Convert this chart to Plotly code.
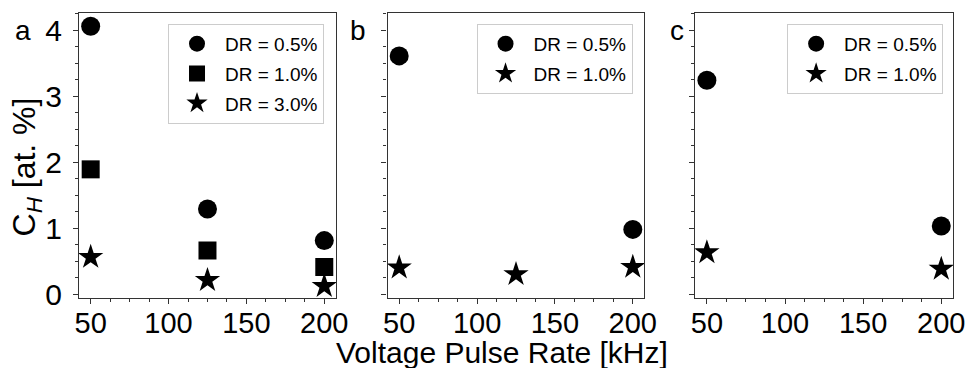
import plotly.graph_objects as go

# ---- data ----
rate_a = [50, 125, 200]
a_dr05 = [4.06, 1.29, 0.81]
a_dr10 = [1.89, 0.66, 0.41]
a_dr30 = [0.56, 0.21, 0.12]

rate_b05 = [50, 200]
b_dr05 = [3.61, 0.98]
rate_b10 = [50, 125, 200]
b_dr10 = [0.40, 0.30, 0.41]

rate_c = [50, 200]
c_dr05 = [3.24, 1.03]
c_dr10 = [0.63, 0.38]

x_ticks = [50, 100, 150, 200]
y_ticks = [0, 1, 2, 3, 4]
panel_labels = ["a", "b", "c"]

FONT = "Liberation Sans, Arial, sans-serif"
AX = "#333333"

fig = go.Figure()

def add(x, y, name, symbol, size, xa, ya, leg, grp):
    fig.add_trace(go.Scatter(
        x=x, y=y, mode="markers", name=name,
        marker=dict(symbol=symbol, size=size, color="black", line=dict(width=0)),
        xaxis=xa, yaxis=ya, legend=leg, legendgroup=grp,
    ))

add(rate_a, a_dr05, "DR = 0.5%", "circle", 19, "x", "y", "legend", "a1")
add(rate_a, a_dr10, "DR = 1.0%", "square", 18, "x", "y", "legend", "a2")
add(rate_a, a_dr30, "DR = 3.0%", "star", 19, "x", "y", "legend", "a3")
add(rate_b05, b_dr05, "DR = 0.5%", "circle", 19, "x2", "y2", "legend2", "b1")
add(rate_b10, b_dr10, "DR = 1.0%", "star", 19, "x2", "y2", "legend2", "b2")
add(rate_c, c_dr05, "DR = 0.5%", "circle", 19, "x3", "y3", "legend3", "c1")
add(rate_c, c_dr10, "DR = 1.0%", "star", 19, "x3", "y3", "legend3", "c2")

domains = [[0, 0.294], [0.353, 0.647], [0.705, 1.0]]
for i, dom in enumerate(domains):
    sfx = "" if i == 0 else str(i + 1)
    fig.layout["xaxis" + sfx] = dict(
        domain=dom, range=[42.5, 207.5], anchor="y" + sfx,
        tickvals=x_ticks, ticks="outside", ticklen=5, tickwidth=1, tickcolor=AX,
        showline=True, linecolor=AX, linewidth=1.2, mirror=True,
        showgrid=False, zeroline=False, ticklabelstandoff=-6,
        tickfont=dict(size=29, color="black", family=FONT),
        minor=dict(dtick=12.5, tick0=50, ticks="outside", ticklen=3, tickcolor=AX),
    )
    fig.layout["yaxis" + sfx] = dict(
        range=[-0.06, 4.26], anchor="x" + sfx,
        tickvals=y_ticks, ticks="outside", ticklen=5, tickwidth=1, tickcolor=AX,
        showline=True, linecolor=AX, linewidth=1.2, mirror=True,
        showgrid=False, zeroline=False, showticklabels=(i == 0), ticklabelstandoff=5,
        tickfont=dict(size=30, color="black", family=FONT),
        minor=dict(dtick=0.25, tick0=0, ticks="outside", ticklen=3, tickcolor=AX),
    )

leg_common = dict(
    xanchor="right", yanchor="top", y=0.962,
    bgcolor="white", bordercolor="#cccccc", borderwidth=1,
    font=dict(size=19, color="black", family=FONT),
    tracegroupgap=2, itemsizing="trace", itemwidth=46,
)
fig.update_layout(
    legend=dict(x=0.2826 - 2 / 881, **leg_common),
    legend2=dict(x=0.6356 - 2 / 881, **leg_common),
    legend3=dict(x=0.9887, **leg_common),
)

label_x = [-0.0522, 0.3303, 0.6947]
for i, (lab, lx) in enumerate(zip(panel_labels, label_x)):
    sfx = "" if i == 0 else str(i + 1)
    fig.add_annotation(text=lab, x=lx, xref="paper", xanchor="right",
                       y=4, yref="y" + sfx, yanchor="middle", showarrow=False,
                       font=dict(size=28, color="black", family=FONT))

fig.add_annotation(text="C<sub><i>H</i></sub> [at. %]", textangle=-90,
                   x=(26 - 79) / 881, y=1 - (167 - 13) / 285,
                   xref="paper", yref="paper", xanchor="center", yanchor="middle",
                   showarrow=False, font=dict(size=32, color="black", family=FONT))
fig.add_annotation(text="Voltage Pulse Rate [kHz]",
                   x=(505 - 79) / 881, y=1 - (352 - 13) / 285,
                   xref="paper", yref="paper", xanchor="center", yanchor="middle",
                   showarrow=False, font=dict(size=30, color="black", family=FONT))

fig.update_layout(
    width=977, height=368,
    margin=dict(l=79, r=17, t=13, b=70),
    plot_bgcolor="white", paper_bgcolor="white",
    font=dict(family=FONT, color="black"),
)

fig.write_html("out.html", config={"displayModeBar": False},
               post_script="document.body.style.margin='0';document.body.style.overflow='hidden';")
